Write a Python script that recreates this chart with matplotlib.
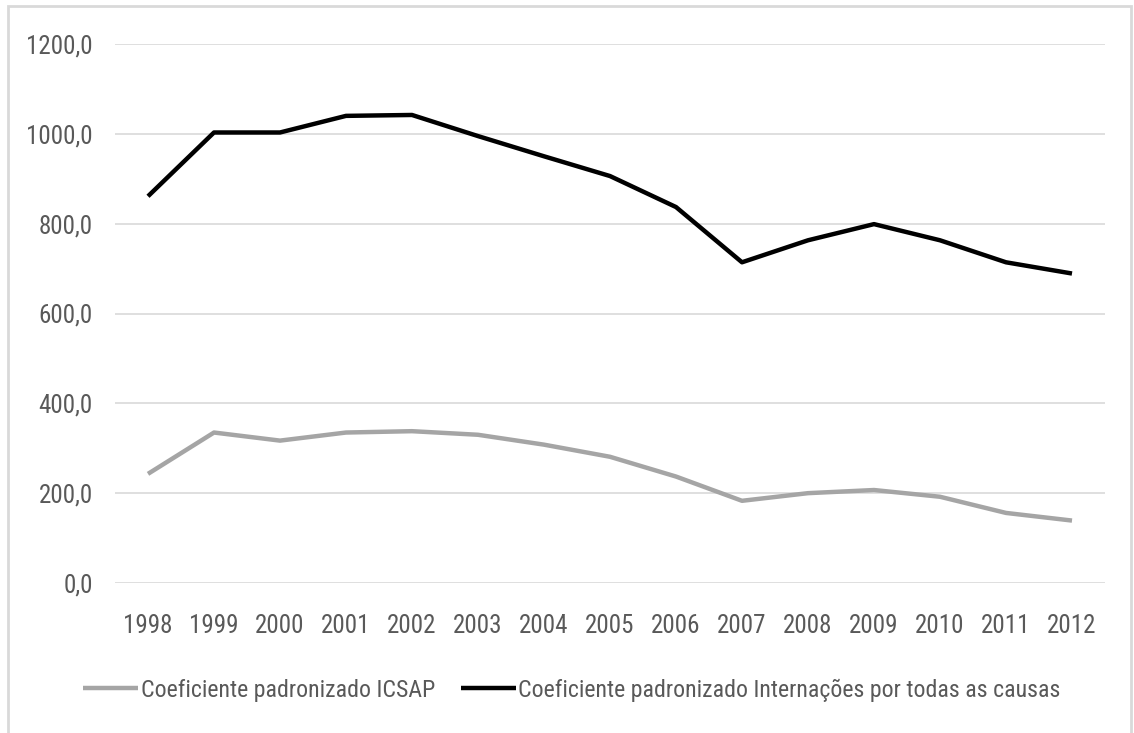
import matplotlib
matplotlib.use("Agg")
from matplotlib import pyplot as plt
from matplotlib.ticker import FuncFormatter

# dados
anos = ['1998', '1999', '2000', '2001', '2002', '2003', '2004', '2005',
        '2006', '2007', '2008', '2009', '2010', '2011', '2012']
icsap = [243, 335, 317, 335, 338, 330, 308, 281, 237, 183, 200, 207, 192, 156, 139]
todas_causas = [861, 1003, 1003, 1040, 1042, 995, 950, 906, 837, 714, 763, 799, 763, 714, 689]
y_ticks = [0, 200, 400, 600, 800, 1000, 1200]

plt.rcParams['font.family'] = ['Roboto Condensed', 'Liberation Sans', 'DejaVu Sans']

fig = plt.figure(figsize=(11.34, 7.33), dpi=100)
ax = fig.add_axes([115 / 1134, 1 - 583 / 733, 990 / 1134, 539 / 733])

x = list(range(len(anos)))
ax.plot(x, icsap, color='#A5A5A5', lw=3.2, label='Coeficiente padronizado ICSAP', solid_capstyle='butt')
ax.plot(x, todas_causas, color='black', lw=3.2, label='Coeficiente padronizado Internações por todas as causas',
        solid_capstyle='butt')

ax.set_xlim(-0.5, len(anos) - 0.5)
ax.set_ylim(0, 1200)
ax.set_yticks(y_ticks)
ax.yaxis.set_major_formatter(FuncFormatter(lambda v, p: f'{v:.1f}'.replace('.', ',')))
ax.set_xticks(x)
ax.set_xticklabels(anos)
ax.grid(axis='y', color='#D9D9D9', lw=1.2)
ax.set_axisbelow(True)
for s in ax.spines.values():
    s.set_visible(False)
ax.tick_params(length=0, labelsize=18, colors='#595959')
ax.tick_params(axis='y', pad=16)
ax.tick_params(axis='x', pad=22)

fig.legend(loc='center', bbox_to_anchor=(572 / 1134, 1 - 690 / 733), ncol=2, frameon=False,
           fontsize=17.2, handlelength=2.3, handletextpad=0.1, columnspacing=1.1,
           labelcolor='#595959')

# moldura
fig.add_artist(plt.Rectangle((8 / 1134, -0.01), 1123 / 1134, 1 - 6 / 733 + 0.01,
                             transform=fig.transFigure, fill=False, edgecolor='#D9D9D9', lw=2))

fig.savefig('out.png', dpi=100)
